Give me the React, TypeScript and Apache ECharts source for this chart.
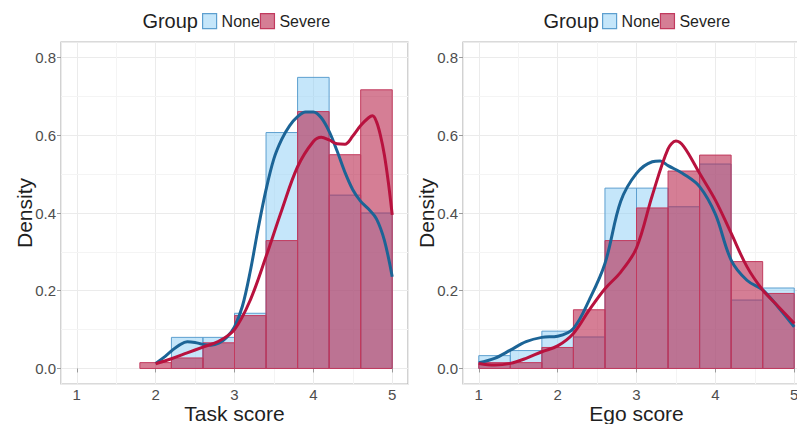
import React, { useEffect, useRef } from "react";
import * as echarts from "echarts";

// ---------- data ----------
const binWidth = 0.4;
const taskBinStarts = [1.8, 2.2, 2.6, 3.0, 3.4, 3.8, 4.2, 4.6];
const taskNone = [0, 0.08, 0.08, 0.142, 0.607, 0.749, 0.446, 0.4];
const taskSevere = [0.015, 0.027, 0.066, 0.136, 0.329, 0.661, 0.55, 0.717];

const egoBinStarts = [1.0, 1.4, 1.8, 2.2, 2.6, 3.0, 3.4, 3.8, 4.2, 4.6];
const egoNone = [0.033, 0.046, 0.096, 0.081, 0.464, 0.464, 0.416, 0.526, 0.176, 0.207];
const egoSevere = [0.015, 0.015, 0.054, 0.151, 0.329, 0.413, 0.508, 0.549, 0.275, 0.193];

const taskNoneDensX = [2.0, 2.1, 2.2, 2.3, 2.4, 2.5, 2.6, 2.7, 2.8, 2.9, 3.0, 3.1, 3.2, 3.3, 3.4, 3.5, 3.6, 3.7, 3.8, 3.9, 4.0, 4.1, 4.2, 4.3, 4.4, 4.5, 4.6, 4.7, 4.8, 4.9, 5.0];
const taskNoneDensY = [0.013, 0.028, 0.045, 0.06, 0.069, 0.067, 0.062, 0.06, 0.065, 0.08, 0.107, 0.16, 0.25, 0.36, 0.46, 0.54, 0.59, 0.625, 0.648, 0.66, 0.66, 0.645, 0.61, 0.56, 0.505, 0.46, 0.43, 0.41, 0.385, 0.33, 0.236];
const taskSevereDensX = [2.0, 2.2, 2.4, 2.6, 2.8, 3.0, 3.2, 3.4, 3.6, 3.8, 4.0, 4.1, 4.2, 4.3, 4.4, 4.5, 4.6, 4.7, 4.75, 4.8, 4.85, 4.9, 4.95, 5.0];
const taskSevereDensY = [0.012, 0.025, 0.04, 0.055, 0.07, 0.1, 0.176, 0.288, 0.408, 0.519, 0.584, 0.595, 0.588, 0.578, 0.577, 0.598, 0.625, 0.645, 0.65, 0.635, 0.6, 0.55, 0.48, 0.395];

const egoNoneDensX = [1.0, 1.2, 1.4, 1.6, 1.8, 2.0, 2.2, 2.4, 2.6, 2.8, 3.0, 3.2, 3.3, 3.4, 3.6, 3.8, 4.0, 4.2, 4.4, 4.6, 4.8, 5.0];
const egoNoneDensY = [0.015, 0.026, 0.047, 0.069, 0.08, 0.083, 0.103, 0.176, 0.27, 0.43, 0.502, 0.532, 0.534, 0.522, 0.5, 0.468, 0.397, 0.279, 0.227, 0.202, 0.157, 0.107];
const egoSevereDensX = [1.0, 1.2, 1.4, 1.6, 1.8, 2.0, 2.2, 2.4, 2.6, 2.8, 3.0, 3.2, 3.4, 3.5, 3.6, 3.8, 4.0, 4.2, 4.4, 4.6, 4.8, 5.0];
const egoSevereDensY = [0.013, 0.009, 0.013, 0.026, 0.043, 0.058, 0.09, 0.15, 0.205, 0.248, 0.31, 0.445, 0.565, 0.585, 0.571, 0.502, 0.433, 0.348, 0.262, 0.202, 0.159, 0.116];

const xTickLabels = ["1", "2", "3", "4", "5"];
const minorX = [1.5, 2.5, 3.5, 4.5];
const minorY = [0.1, 0.3, 0.5, 0.7];

const groups = ["None", "Severe"];
const panelTitles = ["Task score", "Ego score"];

// ---------- styles ----------
const FONT = "'Liberation Sans', Arial, Helvetica, sans-serif";
const blueFill = "rgba(140,205,245,0.5)";
const blueBorder = "#5d9fcf";
const blueLine = "#1c6496";
const redFill = "rgba(182,28,68,0.57)";
const redBorder = "#c23a5e";
const redLine = "#b8123e";

const GRID_TOP = 42;
const GRID_H = 342;
const GRID_W = 347;
const GRID_LEFTS = [61, 463];

function bins(starts: number[], vals: number[]) {
  return starts.map((s, i) => [s, +(s + binWidth).toFixed(2), vals[i]]).filter((d) => d[2] > 0);
}

function pairs(xs: number[], ys: number[]) {
  return xs.map((x, i) => [x, ys[i]]);
}

function histSeries(name: string, gi: number, data: number[][], fill: string, stroke: string, z: number) {
  return {
    type: "custom",
    name,
    xAxisIndex: gi,
    yAxisIndex: gi,
    z,
    silent: true,
    encode: { x: [0, 1], y: 2 },
    data,
    itemStyle: { color: fill, borderColor: stroke },
    renderItem: (params: any, api: any) => {
      const x0 = api.value(0);
      const x1 = api.value(1);
      const y = api.value(2);
      const p0 = api.coord([x0, y]);
      const p1 = api.coord([x1, 0]);
      return {
        type: "rect",
        shape: { x: p0[0], y: p0[1], width: p1[0] - p0[0], height: p1[1] - p0[1] },
        style: { fill, stroke, lineWidth: 1 },
      };
    },
  };
}

function lineSeries(name: string, gi: number, data: number[][], color: string, withMinor: boolean) {
  const s: any = {
    type: "line",
    name,
    xAxisIndex: gi,
    yAxisIndex: gi,
    z: 4,
    data,
    smooth: 0.35,
    showSymbol: false,
    silent: true,
    lineStyle: { color, width: 3 },
    itemStyle: { color },
  };
  if (withMinor) {
    s.markLine = {
      silent: true,
      z: 1,
      symbol: ["none", "none"],
      label: { show: false },
      lineStyle: { color: "#f4f4f4", type: "solid", width: 1 },
      emphasis: { disabled: true },
      data: [...minorX.map((v) => ({ xAxis: v })), ...minorY.map((v) => ({ yAxis: v }))],
    };
  }
  return s;
}

export default function App() {
  const ref = useRef<HTMLDivElement>(null);

  useEffect(() => {
    if (!ref.current) return;
    const chart = echarts.init(ref.current, undefined, { renderer: "svg" });

    const grids = GRID_LEFTS.map((left) => ({
      left,
      top: GRID_TOP,
      width: GRID_W,
      height: GRID_H,
      show: true,
      borderColor: "#b5b5b5",
      borderWidth: 1.2,
      backgroundColor: "transparent",
      containLabel: false,
      outerBoundsMode: "none",
    }));

    const xAxes = [0, 1].map((gi) => ({
      type: "value",
      gridIndex: gi,
      min: 0.8,
      max: 5.2,
      splitNumber: 4,
      name: panelTitles[gi],
      nameLocation: "middle",
      nameGap: 19,
      nameMoveOverlap: false,
      nameTextStyle: { fontSize: 21, color: "#1f1f1f", fontFamily: FONT },
      axisLine: { show: false },
      axisTick: { show: true, length: 4, lineStyle: { color: "#9a9a9a" } },
      axisLabel: {
        fontSize: 15,
        color: "#4d4d4d",
        fontFamily: FONT,
        margin: 3,
        showMinLabel: false,
        showMaxLabel: false,
        formatter: (v: number) => {
          const i = Math.round(v) - 1;
          return Math.abs(v - Math.round(v)) < 1e-6 && xTickLabels[i] ? xTickLabels[i] : "";
        },
      },
      splitLine: { show: true, lineStyle: { color: "#ebebeb", width: 1 } },
    }));

    const yAxes = [0, 1].map((gi) => ({
      type: "value",
      gridIndex: gi,
      min: -0.04,
      max: 0.84,
      splitNumber: 4,
      name: "Density",
      nameLocation: "middle",
      nameGap: 26,
      nameRotate: 90,
      nameMoveOverlap: false,
      nameTextStyle: { fontSize: 21, color: "#1f1f1f", fontFamily: FONT },
      axisLine: { show: false },
      axisTick: { show: true, length: 4, lineStyle: { color: "#9a9a9a" } },
      axisLabel: {
        fontSize: 15,
        color: "#4d4d4d",
        fontFamily: FONT,
        margin: 5,
        showMinLabel: false,
        showMaxLabel: false,
        formatter: (v: number) => (v < -0.001 || v > 0.801 ? "" : v.toFixed(1)),
      },
      splitLine: { show: true, lineStyle: { color: "#ebebeb", width: 1 } },
    }));

    const legendData = [
      { name: groups[0], icon: "rect", itemStyle: { color: blueFill, borderColor: blueBorder, borderWidth: 1.2 } },
      { name: groups[1], icon: "rect", itemStyle: { color: redFill, borderColor: redBorder, borderWidth: 1.2 } },
    ];

    const legends = [GRID_LEFTS[0] + 141, GRID_LEFTS[1] + 139].map((left) => ({
      left,
      top: 13,
      padding: 0,
      orient: "horizontal",
      itemWidth: 14,
      itemHeight: 15,
      itemGap: 0,
      selectedMode: false,
      data: legendData,
      textStyle: { fontSize: 16, color: "#1f1f1f", fontFamily: FONT },
    }));

    const option: any = {
      animation: false,
      backgroundColor: "#ffffff",
      grid: grids,
      xAxis: xAxes,
      yAxis: yAxes,
      legend: legends,
      graphic: [GRID_LEFTS[0] + 137, GRID_LEFTS[1] + 136].map((x) => ({
        type: "text",
        x,
        y: 21,
        style: {
          text: "Group",
          fontSize: 20,
          fontFamily: FONT,
          fill: "#1f1f1f",
          align: "right",
          verticalAlign: "middle",
        },
      })),
      series: [
        histSeries(groups[0], 0, bins(taskBinStarts, taskNone), blueFill, blueBorder, 2),
        histSeries(groups[1], 0, bins(taskBinStarts, taskSevere), redFill, redBorder, 3),
        histSeries(groups[0], 1, bins(egoBinStarts, egoNone), blueFill, blueBorder, 2),
        histSeries(groups[1], 1, bins(egoBinStarts, egoSevere), redFill, redBorder, 3),
        lineSeries("None density", 0, pairs(taskNoneDensX, taskNoneDensY), blueLine, true),
        lineSeries("Severe density", 0, pairs(taskSevereDensX, taskSevereDensY), redLine, false),
        lineSeries("None density", 1, pairs(egoNoneDensX, egoNoneDensY), blueLine, true),
        lineSeries("Severe density", 1, pairs(egoSevereDensX, egoSevereDensY), redLine, false),
      ],
    };

    chart.setOption(option);
    return () => chart.dispose();
  }, []);

  return (
    <div
      ref={ref}
      style={{ position: "fixed", left: 0, top: 0, width: 797, height: 424, background: "#fff" }}
    />
  );
}
